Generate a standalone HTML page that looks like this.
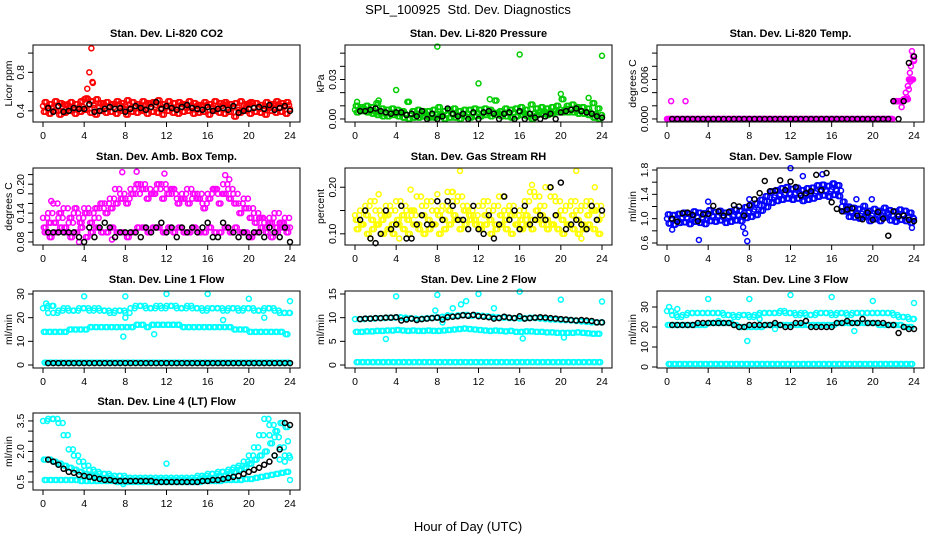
<!DOCTYPE html>
<html><head><meta charset="utf-8">
<style>
html,body{margin:0;padding:0;background:#fff;}
svg{display:block;font-family:"Liberation Sans",Arial,sans-serif;}
</style></head>
<body>
<svg id="chart" width="936" height="540" viewBox="0 0 936 540" xmlns="http://www.w3.org/2000/svg">
<rect x="0" y="0" width="936" height="540" fill="#fff"/>
<text x="468" y="14" font-size="13" text-anchor="middle" style="white-space:pre">SPL_100925  Std. Dev. Diagnostics</text>
<text x="468" y="531" font-size="13" text-anchor="middle">Hour of Day (UTC)</text>
<g id="plots"></g>
</svg>
<script>
// ---- data ----
const xTicks = [0,4,8,12,16,20,24];
// CO2
const co2A = [0.45,0.42,0.44,0.40,0.47,0.43,0.41,0.44,0.52,0.46,0.43,0.48,0.45,0.44,0.47,0.42,0.46,0.43,0.45,0.41,0.47,0.44,0.46,0.43,0.45,0.42,0.44,0.47,0.43,0.45,0.41,0.46,0.44,0.42,0.45,0.47,0.43,0.44,0.41,0.46,0.48,0.44,0.42,0.45,0.43,0.47,0.44,0.46,0.42];
const co2B = [0.39,0.37,0.40,0.36,0.38,0.40,0.37,0.39,0.41,0.38,0.36,0.40,0.38,0.39,0.37,0.40,0.36,0.39,0.38,0.40,0.37,0.39,0.38,0.36,0.40,0.38,0.37,0.39,0.40,0.37,0.38,0.39,0.36,0.40,0.38,0.37,0.39,0.34,0.38,0.40,0.37,0.39,0.38,0.36,0.40,0.38,0.39,0.37,0.32];
const co2C = [0.49,0.47,0.50,0.48,0.46,0.49,0.47,0.50,0.53,0.50,0.52,0.48,0.49,0.47,0.50,0.48,0.51,0.49,0.47,0.50,0.48,0.49,0.51,0.47,0.50,0.48,0.49,0.47,0.50,0.48,0.46,0.49,0.47,0.50,0.48,0.49,0.47,0.48,0.50,0.47,0.49,0.48,0.46,0.49,0.47,0.50,0.48,0.49,0.47];
const co2Out = [[4.3,0.63],[4.5,0.80],[4.7,1.05],[4.8,0.70],[4.85,0.69]];
const co2Black = [0.43,0.39,0.45,0.39,0.40,0.43,0.42,0.42,0.47,0.39,0.40,0.42,0.44,0.42,0.43,0.39,0.42,0.45,0.43,0.41,0.44,0.49,0.42,0.45,0.43,0.41,0.44,0.46,0.43,0.42,0.41,0.44,0.40,0.42,0.43,0.41,0.45,0.38,0.40,0.42,0.43,0.44,0.42,0.46,0.41,0.43,0.45,0.40,0.43];
// Pressure
const prMid = [0.007,0.008,0.007,0.006,0.005,0.004,0.004,0.005,0.004,0.004,0.003,0.003,0.003,0.004,0.003,0.003,0.004,0.003,0.004,0.003,0.003,0.004,0.004,0.005,0.004,0.005,0.004,0.005,0.004,0.005,0.004,0.005,0.005,0.004,0.004,0.005,0.006,0.005,0.006,0.007,0.007,0.008,0.007,0.006,0.006,0.005,0.004,0.003,0.003];
const prUp = [0.010,0.009,0.010,0.009,0.012,0.008,0.007,0.008,0.007,0.006,0.013,0.006,0.007,0.006,0.006,0.007,0.009,0.006,0.007,0.008,0.006,0.007,0.007,0.008,0.007,0.008,0.007,0.014,0.006,0.008,0.007,0.008,0.009,0.007,0.011,0.008,0.009,0.008,0.009,0.010,0.015,0.010,0.011,0.009,0.009,0.008,0.012,0.008,0.006];
const prLow = [0.005,0.006,0.005,0.004,0.003,0.002,0.002,0.003,0.002,0.001,0.000,0.001,0.001,0.002,0.001,0.001,0.002,0.000,0.001,0.001,0.000,0.002,0.001,0.002,0.002,0.003,0.002,0.003,0.002,0.002,0.001,0.002,0.003,0.002,0.000,0.003,0.004,0.003,0.004,0.005,0.005,0.005,0.005,0.004,0.004,0.003,0.001,0.000,0.001];
const prOut = [[4,0.022],[8,0.055],[12,0.027],[16,0.049],[20,0.019],[24,0.048],[22.7,0.016],[13.1,0.015],[0.2,0.013],[2.3,0.014],[5.2,0.013]];
const prBlack = [0.006,0.006,0.007,0.008,0.006,0.005,0.004,0.005,0.005,0.003,0.004,0.002,0.006,0.000,0.004,0.000,0.002,0.008,0.004,0.002,0.004,0.000,0.005,0.000,0.005,0.006,0.004,0.000,0.004,0.005,0.000,0.006,0.000,0.004,0.001,0.000,0.002,0.004,0.000,0.005,0.006,0.007,0.008,0.006,0.005,0.004,0.002,0.001,0.002];
// Li-820 temp
const tpMag = [0,0,0,0,0,0,0,0,0,0,0,0,0,0,0,0,0,0,0,0,0,0,0,0,0,0,0,0,0,0,0,0,0,0,0,0,0,0,0,0,0,0,0,0,0.0027,0.0027,0.003,0.006,0.009];
const tpOut = [[0.4,0.0027],[1.8,0.0027],[22.8,0.0018],[23.2,0.004],[23.3,0.0033],[23.4,0.005],[23.5,0.0045],[23.6,0.007],[23.65,0.0057],[23.7,0.008],[23.8,0.0103],[23.9,0.0095],[24,0.0088]];
const tpBlack = [0,0,0,0,0,0,0,0,0,0,0,0,0,0,0,0,0,0,0,0,0,0,0,0,0,0,0,0,0,0,0,0,0,0,0,0,0,0,0,0,0,0,0,0.0027,0,0.0027,0.0085,0.0095,0.006];
// Amb box temp
const abUp = [0.13,0.14,0.16,0.13,0.15,0.12,0.14,0.13,0.15,0.14,0.13,0.15,0.16,0.17,0.19,0.18,0.17,0.19,0.18,0.20,0.19,0.18,0.19,0.20,0.19,0.18,0.17,0.18,0.19,0.17,0.18,0.16,0.18,0.19,0.18,0.20,0.19,0.18,0.16,0.17,0.15,0.14,0.13,0.12,0.13,0.14,0.12,0.13,0.11];
const abMid = [0.11,0.12,0.12,0.14,0.11,0.13,0.15,0.12,0.14,0.12,0.15,0.16,0.14,0.15,0.16,0.17,0.16,0.18,0.20,0.19,0.17,0.18,0.20,0.17,0.18,0.19,0.16,0.17,0.16,0.18,0.17,0.15,0.17,0.19,0.16,0.18,0.17,0.16,0.14,0.15,0.13,0.12,0.13,0.11,0.12,0.11,0.12,0.11,0.12];
const abLow = [0.10,0.09,0.10,0.11,0.10,0.09,0.10,0.11,0.09,0.10,0.11,0.10,0.10,0.11,0.10,0.10,0.09,0.10,0.11,0.11,0.10,0.11,0.11,0.10,0.11,0.10,0.11,0.10,0.10,0.11,0.10,0.10,0.11,0.10,0.10,0.11,0.10,0.11,0.10,0.10,0.09,0.10,0.11,0.10,0.09,0.10,0.11,0.10,0.10];
const abOut = [[0.8,0.165],[7.7,0.225],[9.1,0.226],[11.8,0.222],[17.7,0.219],[3.5,0.08],[6.7,0.085],[18.1,0.21]];
const abBlack = [0.10,0.10,0.10,0.10,0.10,0.10,0.09,0.08,0.11,0.09,0.11,0.12,0.11,0.09,0.10,0.10,0.10,0.10,0.09,0.11,0.10,0.11,0.12,0.10,0.11,0.09,0.11,0.10,0.11,0.10,0.11,0.12,0.09,0.09,0.12,0.11,0.10,0.09,0.10,0.09,0.10,0.10,0.09,0.11,0.10,0.09,0.11,0.08,0.10];
// Gas stream RH
const rhUp = [0.14,0.15,0.16,0.17,0.15,0.14,0.16,0.15,0.17,0.16,0.15,0.14,0.18,0.16,0.17,0.15,0.15,0.16,0.19,0.17,0.18,0.16,0.15,0.14,0.16,0.17,0.15,0.16,0.18,0.15,0.16,0.14,0.15,0.17,0.19,0.18,0.16,0.20,0.18,0.17,0.15,0.16,0.17,0.15,0.16,0.17,0.15,0.16,0.14];
const rhMid = [0.13,0.12,0.14,0.13,0.12,0.13,0.14,0.12,0.13,0.14,0.13,0.15,0.12,0.14,0.13,0.12,0.14,0.13,0.15,0.14,0.13,0.15,0.14,0.13,0.12,0.14,0.13,0.12,0.14,0.13,0.14,0.12,0.13,0.14,0.13,0.15,0.14,0.13,0.12,0.14,0.13,0.12,0.14,0.13,0.12,0.14,0.15,0.13,0.12];
const rhLow = [0.11,0.12,0.10,0.11,0.12,0.10,0.11,0.10,0.12,0.11,0.10,0.12,0.11,0.10,0.11,0.12,0.10,0.11,0.12,0.13,0.11,0.12,0.13,0.12,0.11,0.12,0.10,0.11,0.12,0.11,0.10,0.12,0.11,0.12,0.11,0.13,0.12,0.11,0.12,0.11,0.10,0.12,0.11,0.10,0.11,0.12,0.11,0.10,0.12];
const rhOut = [[2.3,0.185],[5.4,0.195],[8.0,0.185],[9.5,0.19],[10.2,0.235],[17.2,0.205],[21.5,0.235],[23.3,0.20],[1.5,0.09],[4.3,0.09],[22,0.09]];
const rhBlack = [0.13,0.15,0.09,0.08,0.10,0.15,0.11,0.12,0.16,0.09,0.09,0.12,0.14,0.12,0.12,0.17,0.13,0.17,0.16,0.13,0.13,0.11,0.16,0.11,0.10,0.14,0.09,0.12,0.18,0.13,0.15,0.11,0.16,0.12,0.13,0.14,0.13,0.20,0.14,0.21,0.11,0.12,0.13,0.12,0.11,0.16,0.13,0.15,0.12];
// Sample flow
const sfMid = [1.00,0.98,1.00,1.02,1.00,1.03,1.02,1.00,1.05,1.03,1.05,1.02,1.04,1.06,1.05,1.10,1.12,1.15,1.22,1.28,1.35,1.38,1.40,1.42,1.40,1.42,1.38,1.40,1.42,1.45,1.47,1.45,1.48,1.46,1.20,1.12,1.10,1.08,1.12,1.05,1.08,1.05,1.10,1.06,1.04,1.07,1.05,1.02,1.00];
const sfUp = [1.07,1.06,1.08,1.10,1.08,1.12,1.10,1.09,1.14,1.11,1.13,1.10,1.12,1.15,1.13,1.19,1.22,1.25,1.31,1.37,1.45,1.47,1.50,1.52,1.49,1.51,1.47,1.50,1.51,1.55,1.56,1.54,1.58,1.55,1.28,1.20,1.18,1.16,1.21,1.13,1.16,1.13,1.18,1.14,1.12,1.15,1.13,1.10,1.07];
const sfLow = [0.92,0.90,0.93,0.94,0.91,0.95,0.93,0.91,0.96,0.95,0.97,0.93,0.95,0.97,0.96,1.01,1.03,1.06,1.13,1.19,1.26,1.29,1.31,1.33,1.31,1.33,1.29,1.31,1.33,1.36,1.38,1.36,1.39,1.37,1.12,1.03,1.02,1.00,1.03,0.96,0.99,0.96,1.02,0.97,0.95,0.98,0.96,0.93,0.92];
const sfOut = [[0.5,0.82],[3.1,0.65],[4.0,1.28],[7.4,0.86],[7.6,0.76],[7.8,0.63],[12,1.83],[13.2,1.70],[15.1,1.73],[16.2,1.57],[19.9,1.32],[23.8,0.85],[8.0,1.32],[18.4,1.32]];
const sfBlack = [1.00,0.95,1.09,1.10,1.06,0.96,1.07,1.08,1.21,1.12,1.05,1.11,1.22,1.20,1.05,1.22,1.32,1.42,1.62,1.45,1.46,1.63,1.47,1.61,1.52,1.38,1.42,1.45,1.72,1.47,1.75,1.27,1.16,1.12,1.15,1.17,1.05,0.99,1.10,0.98,1.11,1.00,0.72,1.12,1.04,1.05,0.98,0.96];
// Line 1
const l1Up = [24,25,22,23,24,23,23,24,24,23,24,23,23,22,23,23,22,24,25,25,24,24,25,24,25,25,24,24,25,24,24,23,24,24,24,23,24,24,23,24,24,23,23,24,24,23,22,22,22];
const l1Mid = [14,14,14,14,14,15,15,15,15,16,16,16,16,16,16,16,16,16,17,17,16,17,17,17,17,17,17,16,16,16,16,16,16,16,16,16,16,15,15,15,14,14,14,14,14,14,14,13,13];
const l1Low = [1,1,1,1,1,1,1,1,1,1,1,1,1,1,1,1,1,1,1,1,1,1,1,1,1,1,1,1,1,1,1,1,1,1,1,1,1,1,1,1,1,1,1,1,1,1,1,1,1];
const l1Out = [[0.3,26],[4,29],[8,29],[12,30],[16,30],[20,28],[24,27],[7.8,12],[10.8,13],[8,20],[21.5,20],[17.5,19],[0.5,22],[1,25]];
const l1Black = [0.8,0.8,0.8,0.8,0.8,0.8,0.8,0.8,0.8,0.8,0.8,0.8,0.8,0.8,0.8,0.8,0.8,0.8,0.8,0.8,0.8,0.8,0.8,0.8,0.8,0.8,0.8,0.8,0.8,0.8,0.8,0.8,0.8,0.8,0.8,0.8,0.8,0.8,0.8,0.8,0.8,0.8,0.8,0.8,0.8,0.8,0.8,0.8];
// Line 2
const l2Up = [9.7,9.7,9.8,9.8,9.9,9.9,10.0,10.0,10.1,10.0,9.9,9.8,9.7,9.8,9.9,10.0,10.1,10.2,10.4,10.3,10.5,10.6,10.4,10.5,10.4,10.3,10.2,10.1,10.0,10.0,9.9,9.9,9.8,9.9,10.0,9.9,9.8,9.7,9.6,9.6,9.5,9.5,9.4,9.3,9.2,9.1,9.0,9.0,9.0];
const l2Mid = [7.0,7.0,7.1,7.1,7.2,7.2,7.3,7.3,7.4,7.3,7.2,7.3,7.2,7.2,7.3,7.2,7.2,7.3,7.4,7.5,7.6,7.7,7.6,7.5,7.4,7.3,7.2,7.3,7.2,7.1,7.2,7.0,7.0,7.1,7.1,7.0,7.0,6.9,6.9,6.8,6.8,6.8,6.8,6.9,6.8,6.7,6.6,6.6,6.6];
const l2Low = [0.6,0.6,0.6,0.6,0.6,0.6,0.6,0.6,0.6,0.6,0.6,0.6,0.6,0.6,0.6,0.6,0.6,0.6,0.6,0.6,0.6,0.6,0.6,0.6,0.6,0.6,0.6,0.6,0.6,0.6,0.6,0.6,0.6,0.6,0.6,0.6,0.6,0.6,0.6,0.6,0.6,0.6,0.6,0.6,0.6,0.6,0.6,0.6,0.6];
const l2Out = [[4,14.5],[8,14.8],[12,15],[16,15.5],[20,13.8],[24,13.4],[9.5,12],[10.3,12.8],[10.8,13.5],[13.5,12],[7.8,11.5],[3,5.5],[16.3,5.6],[20.3,5.8],[8.5,9],[9,10.5]];
const l2Black = [9.7,9.8,9.8,9.9,9.9,10.0,10.0,10.1,9.4,9.6,9.8,9.5,9.7,9.8,9.9,10.0,9.6,10.1,10.2,10.3,10.5,10.4,10.6,10.3,10.2,10.1,9.8,9.9,10.2,10.0,9.9,10.3,9.8,9.9,10.0,10.1,10.0,9.9,9.8,9.7,9.6,9.5,9.4,9.5,9.4,9.3,9.0,9.0];
// Line 3
const l3Up = [28,26,25,26,27,27,27,27,27,27,27,26,26,25,26,26,25,26,27,27,27,27,28,27,27,26,27,26,26,27,27,27,26,27,27,26,27,27,27,27,27,27,27,27,26,25,25,24,24];
const l3Mid = [21,21,21,21,21,21,21,21,22,22,22,22,22,21,20,20,20,20,20,21,21,21,21,21,21,21,21,21,21,21,21,21,21,22,22,22,22,22,22,22,22,21,21,21,21,21,20,20,19];
const l3Low = [1.5,1.5,1.5,1.5,1.5,1.5,1.5,1.5,1.5,1.5,1.5,1.5,1.5,1.5,1.5,1.5,1.5,1.5,1.5,1.5,1.5,1.5,1.5,1.5,1.5,1.5,1.5,1.5,1.5,1.5,1.5,1.5,1.5,1.5,1.5,1.5,1.5,1.5,1.5,1.5,1.5,1.5,1.5,1.5,1.5,1.5,1.5,1.5,1.5];
const l3Out = [[0.2,30],[1,29],[4,34],[8,34],[12,36],[16,35],[20,33],[24,32],[7.8,13],[18.2,18],[10.5,19],[5,23],[9,24]];
const l3Black = [21,21,21,21,21,22,22,22,22,22,22,22,21,20,20,21,21,21,21,21,22,21,20,20,22,22,23,20,20,20,20,20,22,22,23,22,22,24,22,22,22,22,21,21,17,20,19,19];
// Line 4
const l4A = [3.5,3.6,3.6,3.4,2.8,2.1,1.8,1.5,1.3,1.1,1.0,0.9,0.9,0.8,0.8,0.8,0.7,0.7,0.7,0.7,0.7,0.7,0.7,0.7,0.7,0.7,0.7,0.7,0.7,0.7,0.8,0.8,0.9,0.9,1.0,1.0,1.1,1.2,1.3,1.5,1.8,2.2,2.8,3.6,3.3,2.7,2.2,1.8,1.7];
const l4B = [1.6,1.6,1.5,1.4,1.3,1.2,1.1,1.0,0.9,0.8,0.8,0.7,0.7,0.7,0.6,0.6,0.6,0.6,0.6,0.6,0.6,0.6,0.6,0.6,0.6,0.6,0.6,0.6,0.6,0.6,0.6,0.7,0.7,0.7,0.8,0.8,0.9,1.0,1.1,1.2,1.4,1.6,1.8,2.0,2.4,3.0,3.4,3.2,2.0];
const l4C = [0.6,0.6,0.6,0.6,0.6,0.6,0.6,0.55,0.55,0.55,0.55,0.55,0.55,0.55,0.5,0.5,0.5,0.5,0.5,0.5,0.5,0.5,0.5,0.5,0.5,0.5,0.5,0.5,0.5,0.5,0.5,0.55,0.55,0.55,0.55,0.6,0.6,0.6,0.6,0.65,0.65,0.7,0.75,0.8,0.85,0.9,0.95,1.0,1.0];
const l4Out = [[12,1.4],[24,0.6],[7.8,0.4],[22.5,1.8],[23,1.6],[23.5,1.5],[23.8,2.5],[22,2.8]];
const l4Black = [1.6,1.5,1.35,1.15,1.0,0.95,0.85,0.8,0.75,0.7,0.65,0.6,0.6,0.55,0.55,0.55,0.55,0.55,0.55,0.55,0.55,0.5,0.5,0.5,0.5,0.5,0.5,0.5,0.5,0.5,0.55,0.55,0.6,0.6,0.65,0.7,0.75,0.8,0.9,1.0,1.1,1.2,1.35,1.5,1.8,2.1,3.4,3.3,2.6];

// ---- layout ----
const colX0 = [43,355,667];
const rowTop = [45,168,291,413];
const boxH = 77;
const hourSpan = 247;

const panels = [
 {name:'co2',title:'Stan. Dev. Li-820 CO2',ylab:'Licor ppm',col:0,row:0,ymin:0.284,ymax:1.084,ticks:[0.4,0.6,0.8,1.0],labels:['0.4','0.8'],labelVals:[0.4,0.8],color:'#ff0000',clouds:[co2A,co2B,co2C],out:co2Out,black:co2Black},
 {name:'pressure',title:'Stan. Dev. Li-820 Pressure',ylab:'kPa',col:1,row:0,ymin:-0.0023,ymax:0.0562,ticks:[0,0.01,0.02,0.03,0.04,0.05],labels:['0.00','0.03'],labelVals:[0,0.03],color:'#00cd00',clouds:[prMid,prUp,prLow],out:prOut,black:prBlack},
 {name:'li820-temp',title:'Stan. Dev. Li-820 Temp.',ylab:'degrees C',col:2,row:0,ymin:-0.00046,ymax:0.01123,ticks:[0,0.002,0.004,0.006,0.008,0.010],labels:['0.000','0.006'],labelVals:[0,0.006],color:'#ff00ff',clouds:[tpMag,tpMag,tpMag],out:tpOut,black:tpBlack},
 {name:'amb-box-temp',title:'Stan. Dev. Amb. Box Temp.',ylab:'degrees C',col:0,row:1,ymin:0.0737,ymax:0.2337,ticks:[0.08,0.10,0.12,0.14,0.16,0.18,0.20,0.22],labels:['0.08','0.14','0.20'],labelVals:[0.08,0.14,0.20],color:'#ff00ff',clouds:[abUp,abMid,abLow],out:abOut,black:abBlack},
 {name:'gas-stream-rh',title:'Stan. Dev. Gas Stream RH',ylab:'percent',col:1,row:1,ymin:0.076,ymax:0.2413,ticks:[0.10,0.15,0.20],labels:['0.10','0.20'],labelVals:[0.10,0.20],color:'#ffff00',clouds:[rhUp,rhMid,rhLow],out:rhOut,black:rhBlack},
 {name:'sample-flow',title:'Stan. Dev. Sample Flow',ylab:'ml/min',col:2,row:1,ymin:0.567,ymax:1.833,ticks:[0.6,0.8,1.0,1.2,1.4,1.6,1.8],labels:['0.6','1.0','1.4','1.8'],labelVals:[0.6,1.0,1.4,1.8],color:'#0000ff',clouds:[sfMid,sfUp,sfLow],out:sfOut,black:sfBlack},
 {name:'line1-flow',title:'Stan. Dev. Line 1 Flow',ylab:'ml/min',col:0,row:2,ymin:-1.27,ymax:31.27,ticks:[0,10,20,30],labels:['0','10','20','30'],labelVals:[0,10,20,30],color:'#00ffff',clouds:[l1Up,l1Mid,l1Low],out:l1Out,black:l1Black},
 {name:'line2-flow',title:'Stan. Dev. Line 2 Flow',ylab:'ml/min',col:1,row:2,ymin:-0.63,ymax:15.63,ticks:[0,5,10,15],labels:['0','5','10','15'],labelVals:[0,5,10,15],color:'#00ffff',clouds:[l2Up,l2Mid,l2Low],out:l2Out,black:l2Black},
 {name:'line3-flow',title:'Stan. Dev. Line 3 Flow',ylab:'ml/min',col:2,row:2,ymin:-0.5,ymax:38,ticks:[0,10,20,30],labels:['0','10','20','30'],labelVals:[0,10,20,30],color:'#00ffff',clouds:[l3Up,l3Mid,l3Low],out:l3Out,black:l3Black},
 {name:'line4-flow',title:'Stan. Dev. Line 4 (LT) Flow',ylab:'ml/min',col:0,row:3,ymin:0.107,ymax:3.89,ticks:[0.5,1.0,1.5,2.0,2.5,3.0,3.5],labels:['0.5','2.0','3.5'],labelVals:[0.5,2.0,3.5],color:'#00ffff',clouds:[l4A,l4B,l4C],out:l4Out,black:l4Black}
];

const NS = 'http://www.w3.org/2000/svg';
const root = document.getElementById('plots');
function mk(tag, attrs, parent){
  const e = document.createElementNS(NS, tag);
  for (const k in attrs) e.setAttribute(k, attrs[k]);
  parent.appendChild(e);
  return e;
}

panels.forEach(p => {
  const x0 = colX0[p.col];
  const top = rowTop[p.row];
  const bottom = top + boxH;
  const left = x0 - 10, right = x0 + hourSpan + 10;
  const xs = h => x0 + h * hourSpan / 24;
  const ys = v => bottom - (v - p.ymin) / (p.ymax - p.ymin) * boxH;

  const g = mk('g', {}, root);
  
  

  const t = mk('text', {x:(left+right)/2, y:top-8, 'font-size':11, 'font-weight':'bold', 'text-anchor':'middle'}, g);
  t.textContent = p.title;
  
  

  const pts = mk('g', {fill:'none', 'stroke-width':1.5}, g);
  
  

  const n = p.clouds.length;
  // two passes: second pass offset by quarter hour using a rotated cloud order
  [0, 1].forEach(pass => {
    p.clouds.forEach((arr0, k) => {
      const arr = p.clouds[(k + pass) % n];
      arr.forEach((v, i) => {
        const h = i * 0.5 + pass * 0.25 + k * 0.08;
        if (h > 24.05) return;
        const c = mk('circle', {cx:xs(h), cy:ys(v), r:2.5, stroke:p.color}, pts);
        
        
      });
    });
  });
  p.out.forEach(o => {
    const c = mk('circle', {cx:xs(o[0]), cy:ys(o[1]), r:2.5, stroke:p.color}, pts);
    
    
  });
  p.black.forEach((v, i) => {
    const h = 0.5 + i * 0.5;
    if (h > 24.05) return;
    const c = mk('circle', {cx:xs(h), cy:ys(v), r:2.5, stroke:'#000'}, pts);
    
    
  });

  const box = mk('rect', {x:left, y:top, width:right-left, height:boxH, fill:'none', stroke:'#000', 'stroke-width':1}, g);
  
  

  const xa = mk('g', {}, g);
  
  
  mk('line', {x1:xs(0), x2:xs(24), y1:bottom, y2:bottom, stroke:'#000'}, xa);
  xTicks.forEach(h => {
    mk('line', {x1:xs(h), x2:xs(h), y1:bottom, y2:bottom+5, stroke:'#000'}, xa);
    const l = mk('text', {x:xs(h), y:bottom+17, 'font-size':10.5, 'text-anchor':'middle'}, xa);
    l.textContent = String(h);
    
    
  });

  const ya = mk('g', {}, g);
  
  
  p.ticks.forEach(v => {
    mk('line', {x1:left-5, x2:left, y1:ys(v), y2:ys(v), stroke:'#000'}, ya);
  });
  p.labels.forEach((s, i) => {
    const yy = ys(p.labelVals[i]);
    const l = mk('text', {x:0, y:0, 'font-size':10.5, 'text-anchor':'middle', transform:'translate(' + (left-9) + ',' + yy + ') rotate(-90)'}, ya);
    l.textContent = s;
    
    
  });
  const yt = mk('text', {x:0, y:0, 'font-size':10.5, 'text-anchor':'middle', transform:'translate(' + (left-21) + ',' + (top+boxH/2) + ') rotate(-90)'}, ya);
  yt.textContent = p.ylab;
  
  
});
</script>
</body></html>
